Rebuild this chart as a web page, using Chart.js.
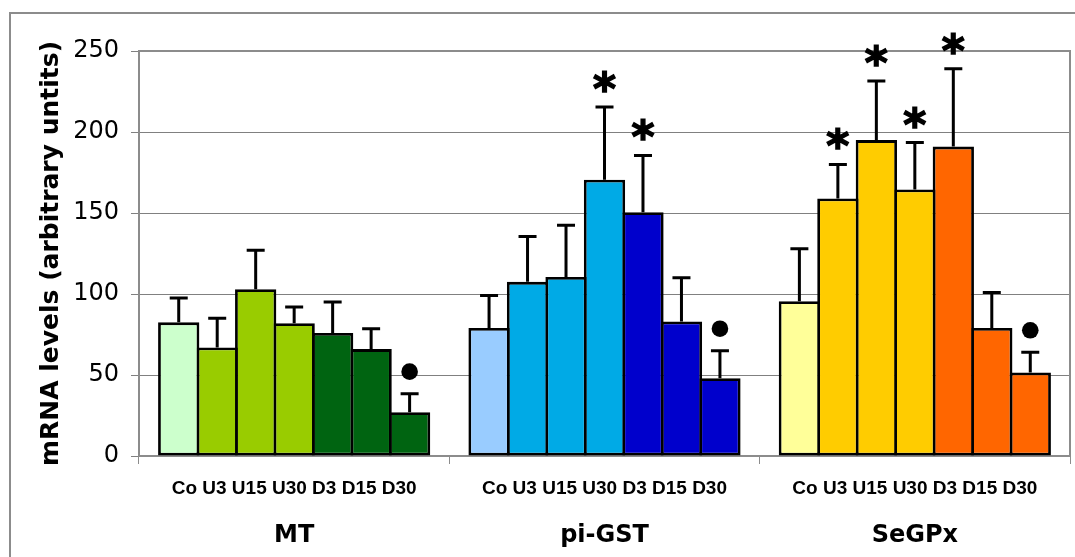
<!DOCTYPE html>
<html>
<head>
<meta charset="utf-8">
<script src="https://cdn.jsdelivr.net/npm/chart.js@4.4.1/dist/chart.umd.min.js"></script>
<style>
  html, body { margin: 0; padding: 0; background: #fff; }
  #wrap { width: 1075px; height: 557px; position: relative; }
</style>
</head>
<body>
<div id="wrap"><canvas id="chart"></canvas></div>
<script>
const groups = ["MT", "pi-GST", "SeGPx"];
const conditions = ["Co", "U3", "U15", "U30", "D3", "D15", "D30"];

const mtMeans = [82.5, 67, 103, 82, 76, 66, 27];
const mtErrors = [15, 18, 24, 10, 19, 12.5, 11.5];
const gstMeans = [79, 107.5, 110.5, 170.5, 150.5, 83, 48];
const gstErrors = [20, 28, 32, 45, 35, 27, 17];
const gpxMeans = [95.5, 159, 195, 164.5, 191, 79, 51.5];
const gpxErrors = [32.5, 21, 36.5, 29, 48, 22, 12.5];

// significance marks (index of the bar in each group)
const starBars = [[], [3, 4], [1, 2, 3, 4]];
const dotBars = [[6], [6], [6]];

const yTicks = [0, 50, 100, 150, 200, 250];

const mtColors = ["#CCFFCC", "#99CC00", "#99CC00", "#99CC00", "#006411", "#006411", "#006411"];
const gstColors = ["#99CCFF", "#00AAE6", "#00AAE6", "#00AAE6", "#0000CC", "#0000CC", "#0000CC"];
const gpxColors = ["#FFFF99", "#FFCC00", "#FFCC00", "#FFCC00", "#FF6600", "#FF6600", "#FF6600"];

const means = [mtMeans, gstMeans, gpxMeans];
const errors = [mtErrors, gstErrors, gpxErrors];

const datasets = conditions.map((cond, i) => ({
  label: cond,
  data: [mtMeans[i], gstMeans[i], gpxMeans[i]],
  backgroundColor: [mtColors[i], gstColors[i], gpxColors[i]],
  borderColor: "#000",
  borderWidth: 2.8,
  borderSkipped: false,
  categoryPercentage: 0.868,
  barPercentage: 1.073,
}));

const outerBorder = {
  id: "outerBorder",
  beforeDraw(chart) {
    const ctx = chart.ctx;
    ctx.save();
    ctx.strokeStyle = "#8c8c8c";
    ctx.lineWidth = 2;
    ctx.beginPath();
    ctx.moveTo(10, 600);
    ctx.lineTo(10, 13);
    ctx.lineTo(1100, 13);
    ctx.stroke();
    ctx.restore();
  },
};

const extras = {
  id: "extras",
  afterDatasetsDraw(chart) {
    const ctx = chart.ctx;
    const y = chart.scales.y;
    const area = chart.chartArea;
    ctx.save();

    // plot frame (top and right)
    ctx.strokeStyle = "#8c8c8c";
    ctx.lineWidth = 2;
    ctx.beginPath();
    ctx.moveTo(area.left, area.top);
    ctx.lineTo(area.right, area.top);
    ctx.lineTo(area.right, area.bottom);
    ctx.stroke();

    // error bars + marks
    ctx.strokeStyle = "#000";
    ctx.fillStyle = "#000";
    conditions.forEach((cond, i) => {
      const meta = chart.getDatasetMeta(i);
      groups.forEach((g, j) => {
        const bar = meta.data[j];
        const top = y.getPixelForValue(means[j][i] + errors[j][i]);
        ctx.lineWidth = 3;
        ctx.beginPath();
        ctx.moveTo(bar.x, bar.y);
        ctx.lineTo(bar.x, top);
        ctx.moveTo(bar.x - 9, top);
        ctx.lineTo(bar.x + 9, top);
        ctx.stroke();

        if (starBars[j].includes(i)) {
          ctx.font = 'bold 44px "DejaVu Sans"';
          ctx.textAlign = "center";
          ctx.textBaseline = "alphabetic";
          ctx.lineWidth = 1.5;
          ctx.fillText("*", bar.x, top - 3);
          ctx.strokeText("*", bar.x, top - 3);
        }
        if (dotBars[j].includes(i)) {
          ctx.beginPath();
          ctx.arc(bar.x, top - 22, 8.3, 0, Math.PI * 2);
          ctx.fill();
        }
      });
    });

    // condition labels under each group
    const x = chart.scales.x;
    ctx.font = 'bold 19px "Liberation Sans"';
    ctx.textAlign = "center";
    ctx.textBaseline = "alphabetic";
    groups.forEach((g, j) => {
      ctx.fillText(conditions.join(" "), x.getPixelForValue(j), area.bottom + 38);
    });
    ctx.restore();
  },
};

new Chart(document.getElementById("chart"), {
  type: "bar",
  data: { labels: groups, datasets: datasets },
  options: {
    responsive: true,
    maintainAspectRatio: false,
    animation: false,
    layout: { padding: { top: 51, left: 0, right: 5, bottom: 0 } },
    plugins: { legend: { display: false }, tooltip: { enabled: false } },
    scales: {
      x: {
        grid: { drawOnChartArea: false, drawTicks: true, tickLength: 8, color: "#8c8c8c", offset: true },
        border: { color: "#8c8c8c", width: 2 },
        ticks: {
          color: "#000",
          padding: 57,
          font: { family: "DejaVu Sans", size: 24, weight: "bold" },
        },
        afterFit: (scale) => { scale.height = 101; },
      },
      y: {
        min: 0,
        max: 250,
        afterBuildTicks: (scale) => { scale.ticks = yTicks.map((v) => ({ value: v })); },
        grid: { color: "#808080", lineWidth: 1, tickLength: 8 },
        border: { color: "#8c8c8c", width: 2 },
        ticks: {
          color: "#000",
          padding: 12,
          font: { family: "DejaVu Sans", size: 24 },
        },
        title: {
          display: true,
          text: "mRNA levels (arbitrary untits)",
          color: "#000",
          padding: { top: 36, bottom: 0 },
          font: { family: "DejaVu Sans", size: 25, weight: "bold" },
        },
        afterFit: (scale) => { scale.width = 139; },
      },
    },
  },
  plugins: [outerBorder, extras],
});
</script>
</body>
</html>
